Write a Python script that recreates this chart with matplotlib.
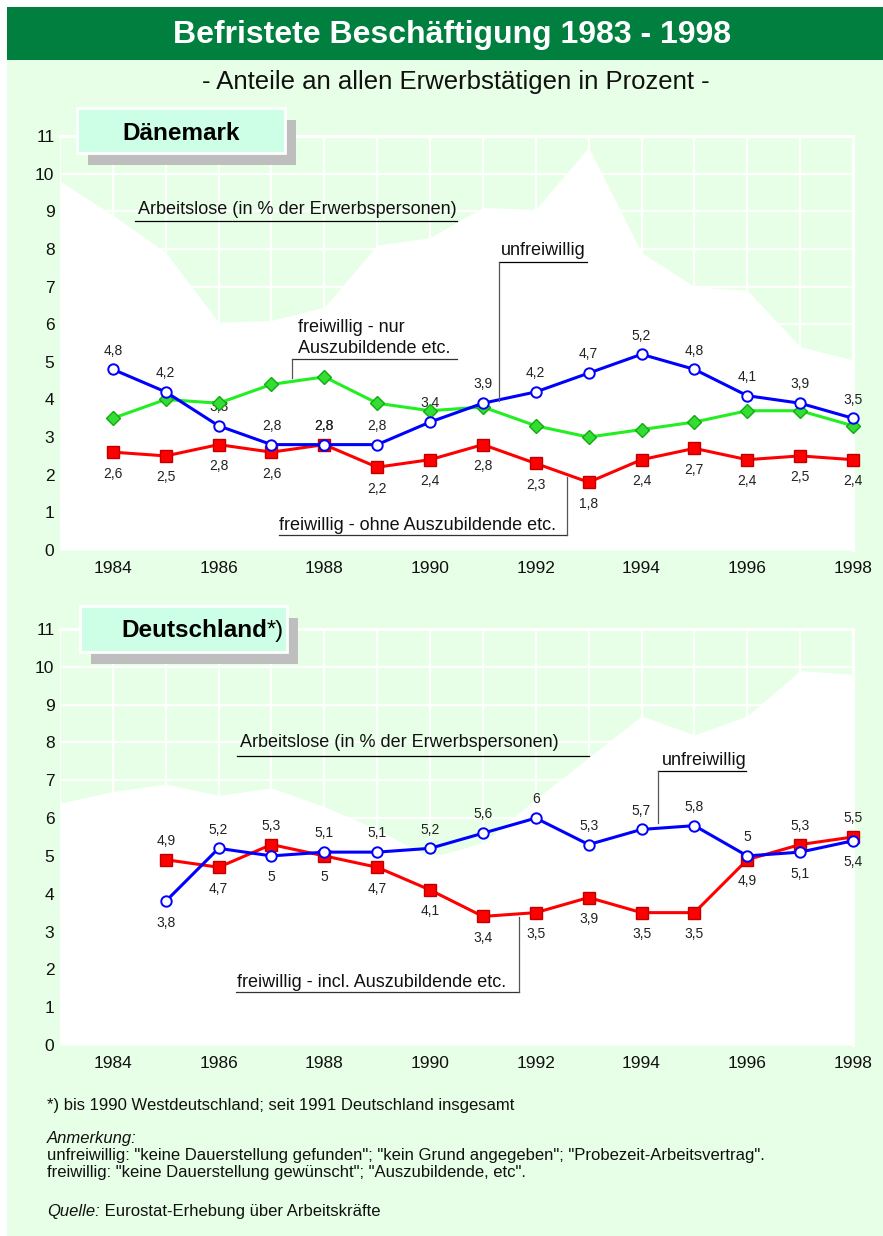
import matplotlib

matplotlib.use("Agg")

import matplotlib.pyplot as plt
from matplotlib.patches import Rectangle
from matplotlib.ticker import MultipleLocator

plt.rcParams["font.family"] = ["Liberation Sans", "DejaVu Sans"]

# ---- data -------------------------------------------------------------
years_area = list(range(1983, 1999))
years_dk = list(range(1984, 1999))
years_de = list(range(1985, 1999))

dk_arbeitslose = [9.8, 8.9, 7.9, 6.05, 6.1, 6.45, 8.1, 8.3, 9.1, 9.05, 10.7, 7.9, 7.0, 6.9, 5.4, 5.05]
dk_unfreiwillig = [4.8, 4.2, 3.3, 2.8, 2.8, 2.8, 3.4, 3.9, 4.2, 4.7, 5.2, 4.8, 4.1, 3.9, 3.5]
dk_freiw_ohne = [2.6, 2.5, 2.8, 2.6, 2.8, 2.2, 2.4, 2.8, 2.3, 1.8, 2.4, 2.7, 2.4, 2.5, 2.4]
dk_freiw_nur = [3.5, 4.0, 3.9, 4.4, 4.6, 3.9, 3.7, 3.8, 3.3, 3.0, 3.2, 3.4, 3.7, 3.7, 3.3]

de_arbeitslose = [6.4, 6.7, 6.9, 6.6, 6.8, 6.3, 5.7, 4.95, 5.35, 6.5, 7.6, 8.7, 8.2, 8.7, 9.9, 9.8]
de_unfreiwillig = [3.8, 5.2, 5.0, 5.1, 5.1, 5.2, 5.6, 6.0, 5.3, 5.7, 5.8, 5.0, 5.1, 5.4]
de_freiw_incl = [4.9, 4.7, 5.3, 5.0, 4.7, 4.1, 3.4, 3.5, 3.9, 3.5, 3.5, 4.9, 5.3, 5.5]

# ---- style ------------------------------------------------------------
W, H = 883, 1236
LIGHT = "#E6FFE6"
HEADER = "#007F3F"
MINT = "#CCFFE6"
SHADOW = "#BEBEBE"
BLUE = "#0000FF"
RED = "#FF0000"
GREEN = "#22EE22"
TXT = "#111111"


def fmt(v):
    return f"{v:g}".replace(".", ",")


def frac(left, top, right, bottom):
    return [left / W, 1 - bottom / H, (right - left) / W, (bottom - top) / H]


def panel(rect, area):
    ax = fig.add_axes(frac(*rect), zorder=2)
    ax.set_facecolor(LIGHT)
    ax.set_xlim(1983, 1998)
    ax.set_ylim(0, 11)
    ax.fill_between(years_area, 0, area, color="white", lw=0, zorder=1)
    ax.set_xticks(range(1984, 1999, 2))
    ax.xaxis.set_minor_locator(MultipleLocator(1))
    ax.yaxis.set_major_locator(MultipleLocator(1))
    ax.set_axisbelow(True)
    ax.grid(which="both", color="white", lw=1.6)
    for s in ax.spines.values():
        s.set_visible(False)
    for side in ("top", "right"):
        ax.spines[side].set_visible(True)
        ax.spines[side].set_color("white")
        ax.spines[side].set_linewidth(2.2)
    ax.tick_params(which="both", length=0)
    ax.tick_params(axis="y", pad=4, labelsize=12.5, labelcolor=TXT)
    ax.tick_params(axis="x", pad=8, labelsize=12.5, labelcolor=TXT)
    return ax


def line(ax, x, y, color, marker, ms, mfc, mec, z, mew=1.4):
    ax.plot(x, y, color=color, lw=2.2, marker=marker, ms=ms, mfc=mfc,
            mec=mec, mew=mew, zorder=z, clip_on=False)


def labels(ax, x, y, other):
    for xi, yi, oi in zip(x, y, other):
        up = yi >= oi
        ax.annotate(fmt(yi), (xi, yi), xytext=(0, 13.5 if up else -15.5),
                    textcoords="offset points", ha="center", va="center",
                    fontsize=10, color="#222222", zorder=3)


fig = plt.figure(figsize=(W / 100, H / 100), dpi=100)

bg = fig.add_axes([0, 0, 1, 1], zorder=0)
bg.set_xlim(0, W)
bg.set_ylim(H, 0)
bg.axis("off")
bg.add_patch(Rectangle((7, 7), W - 7, H - 7, fc=LIGHT, ec="none"))
bg.add_patch(Rectangle((7, 7), W - 7, 53, fc=HEADER, ec="none"))

# ---- Dänemark ---------------------------------------------------------
ax1 = panel((60, 136, 853, 550), dk_arbeitslose)
line(ax1, years_dk, dk_freiw_ohne, RED, "s", 8, RED, "#C00000", 4, 1.0)
line(ax1, years_dk, dk_freiw_nur, GREEN, "D", 7, "#33DD33", "#11AA11", 5, 1.0)
line(ax1, years_dk, dk_unfreiwillig, BLUE, "o", 7.5, "white", BLUE, 6)
labels(ax1, years_dk, dk_unfreiwillig, dk_freiw_ohne)
labels(ax1, years_dk, dk_freiw_ohne, dk_unfreiwillig)

# ---- Deutschland ------------------------------------------------------
ax2 = panel((60, 629, 853, 1045), de_arbeitslose)
line(ax2, years_de, de_freiw_incl, RED, "s", 8, RED, "#C00000", 4, 1.0)
line(ax2, years_de, de_unfreiwillig, BLUE, "o", 7.5, "white", BLUE, 6)
labels(ax2, years_de, de_unfreiwillig, de_freiw_incl)
labels(ax2, years_de, de_freiw_incl, de_unfreiwillig)

# ---- overlay: titles, boxes, callouts ---------------------------------
fg = fig.add_axes([0, 0, 1, 1], zorder=5)
fg.set_xlim(0, W)
fg.set_ylim(H, 0)
fg.axis("off")
fg.patch.set_alpha(0)

fg.text(452, 43, "Befristete Beschäftigung 1983 - 1998", ha="center", va="baseline",
        fontsize=23, fontweight="bold", color="white")
fg.text(456, 89, "- Anteile an allen Erwerbstätigen in Prozent -", ha="center",
        va="baseline", fontsize=18.5, color=TXT)


def title_box(x0, y0, x1, y1):
    fg.add_patch(Rectangle((x0 + 11, y0 + 12), x1 - x0, y1 - y0, fc=SHADOW, ec="none"))
    fg.add_patch(Rectangle((x0, y0), x1 - x0, y1 - y0, fc=MINT, ec="white", lw=2))


title_box(77, 108, 285, 153)
fg.text(181, 140, "Dänemark", ha="center", va="baseline", fontsize=17.5,
        fontweight="bold", color="black")

title_box(80, 606, 287, 652)
fg.text(267, 637, "Deutschland", ha="right", va="baseline", fontsize=17.5,
        fontweight="bold", color="black")
fg.text(267, 637, "*)", ha="left", va="baseline", fontsize=17, color="black")


def callout(text_xy, text, ul, vert=None, ul_color="black", fs=13):
    fg.text(text_xy[0], text_xy[1], text, ha="left", va="baseline", fontsize=fs,
            color=TXT)
    fg.plot([ul[0], ul[1]], [ul[2], ul[2]], color=ul_color, lw=0.9)
    if vert is not None:
        fg.plot([vert[0], vert[0]], [vert[1], vert[2]], color="#555555", lw=0.9)


callout((138, 214), "Arbeitslose (in % der Erwerbspersonen)", (135, 457, 221))
callout((501, 255), "unfreiwillig", (499, 587, 262), (499, 262, 401))
fg.text(298, 332, "freiwillig - nur", ha="left", va="baseline", fontsize=13, color=TXT)
callout((298, 353), "Auszubildende etc.", (292, 457, 359), (292, 359, 378), "#333333")
callout((279, 530), "freiwillig - ohne Auszubildende etc.", (279, 567, 535),
        (567, 535, 477), "#333333")

callout((240, 747), "Arbeitslose (in % der Erwerbspersonen)", (237, 589, 756))
callout((662, 765), "unfreiwillig", (658, 746, 771), (658, 771, 823))
callout((237, 987), "freiwillig - incl. Auszubildende etc.", (236, 519, 992),
        (519, 992, 917), "#333333")

# ---- footnotes --------------------------------------------------------
fs = 12
fg.text(47, 1110, "*) bis 1990 Westdeutschland; seit 1991 Deutschland insgesamt",
        fontsize=fs, color=TXT, va="baseline")
fg.text(47, 1143, "Anmerkung:", fontsize=fs, style="italic", color=TXT, va="baseline")
fg.text(47, 1160, 'unfreiwillig: "keine Dauerstellung gefunden"; "kein Grund angegeben"; '
        '"Probezeit-Arbeitsvertrag".', fontsize=fs, color=TXT, va="baseline")
fg.text(47, 1177, 'freiwillig: "keine Dauerstellung gewünscht"; "Auszubildende, etc".',
        fontsize=fs, color=TXT, va="baseline")
q = fg.text(47, 1216, "Quelle:", fontsize=fs, style="italic", color=TXT, va="baseline")
fg.annotate(" Eurostat-Erhebung über Arbeitskräfte", xycoords=q, xy=(1, 0),
            va="bottom", ha="left", fontsize=fs, color=TXT)

fig.savefig("out.png", dpi=100, facecolor="white")
